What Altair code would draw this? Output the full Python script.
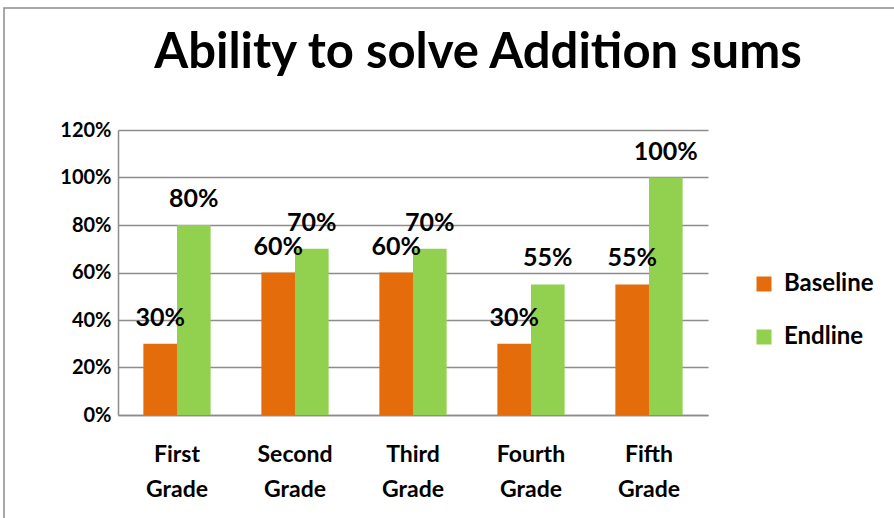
import altair as alt
import pandas as pd

grades = ["First Grade", "Second Grade", "Third Grade", "Fourth Grade", "Fifth Grade"]
series = ["Baseline", "Endline"]
baseline = [0.30, 0.60, 0.60, 0.30, 0.55]
endline = [0.80, 0.70, 0.70, 0.55, 1.00]
y_ticks = [0, 0.2, 0.4, 0.6, 0.8, 1.0, 1.2]
colors = ["#E46C0A", "#92D050"]

rows = []
for g, b, e in zip(grades, baseline, endline):
    rows.append({"grade": g, "series": "Baseline", "value": b})
    rows.append({"grade": g, "series": "Endline", "value": e})
df = pd.DataFrame(rows)

FONT = "Lato"

x = alt.X(
    "grade:N",
    sort=grades,
    scale=alt.Scale(paddingInner=0.43, paddingOuter=0.215),
    axis=alt.Axis(
        title=None, labelAngle=0, labelExpr="split(datum.label, ' ')",
        labelFont=FONT, labelFontSize=23, labelFontWeight="bold", labelColor="black",
        labelPadding=28, labelLineHeight=35, ticks=False,
        domainColor="#8c8c8c", domainWidth=1.5,
    ),
)
y = alt.Y(
    "value:Q",
    scale=alt.Scale(domain=[0, 1.2]),
    axis=alt.Axis(
        title=None, format=".0%", values=y_ticks, ticks=False, labelPadding=7,
        labelFont=FONT, labelFontSize=20, labelFontWeight="bold", labelColor="black",
        gridColor="#8c8c8c", gridWidth=1.5, domainColor="#8c8c8c", domainWidth=1.5,
    ),
)
xo = alt.XOffset("series:N", sort=series, scale=alt.Scale(paddingInner=0, paddingOuter=0))

base = alt.Chart(df)

bars = base.mark_bar().encode(
    x=x, y=y, xOffset=xo,
    color=alt.Color(
        "series:N",
        scale=alt.Scale(domain=series, range=colors),
        legend=alt.Legend(
            title=None, orient="none", legendX=634, legendY=142,
            symbolType="square", symbolSize=225, symbolStrokeWidth=0,
            labelFont=FONT, labelFontSize=24, labelFontWeight="bold", labelColor="black",
            rowPadding=29, labelOffset=8,
        ),
    ),
)

labels = base.mark_text(
    baseline="bottom", dy=-13, font=FONT, fontSize=25, fontWeight="bold", color="black"
).encode(
    x=x, y=y, xOffset=xo, text=alt.Text("value:Q", format=".0%")
)

border = alt.Chart(pd.DataFrame({"a": [0]})).mark_rect(
    fill="transparent", stroke="#8c8c8c", strokeWidth=1.5
).encode(
    x=alt.value(-114), x2=alt.value(790), y=alt.value(-122), y2=alt.value(400)
)

chart = alt.layer(border, bars, labels).properties(
    width=590,
    height=285,
    title=alt.TitleParams(
        "Ability to solve Addition sums", font=FONT, fontSize=49, fontWeight="bold",
        color="black", anchor="middle", dx=65, offset=-110, baseline="alphabetic",
    ),
    autosize=alt.AutoSizeParams(type="none"),
    padding={"left": 118, "top": 130, "right": 186, "bottom": 103},
    background="white",
).configure_view(stroke="transparent")

chart.save("out.html", embed_options={"renderer": "svg", "actions": False})
